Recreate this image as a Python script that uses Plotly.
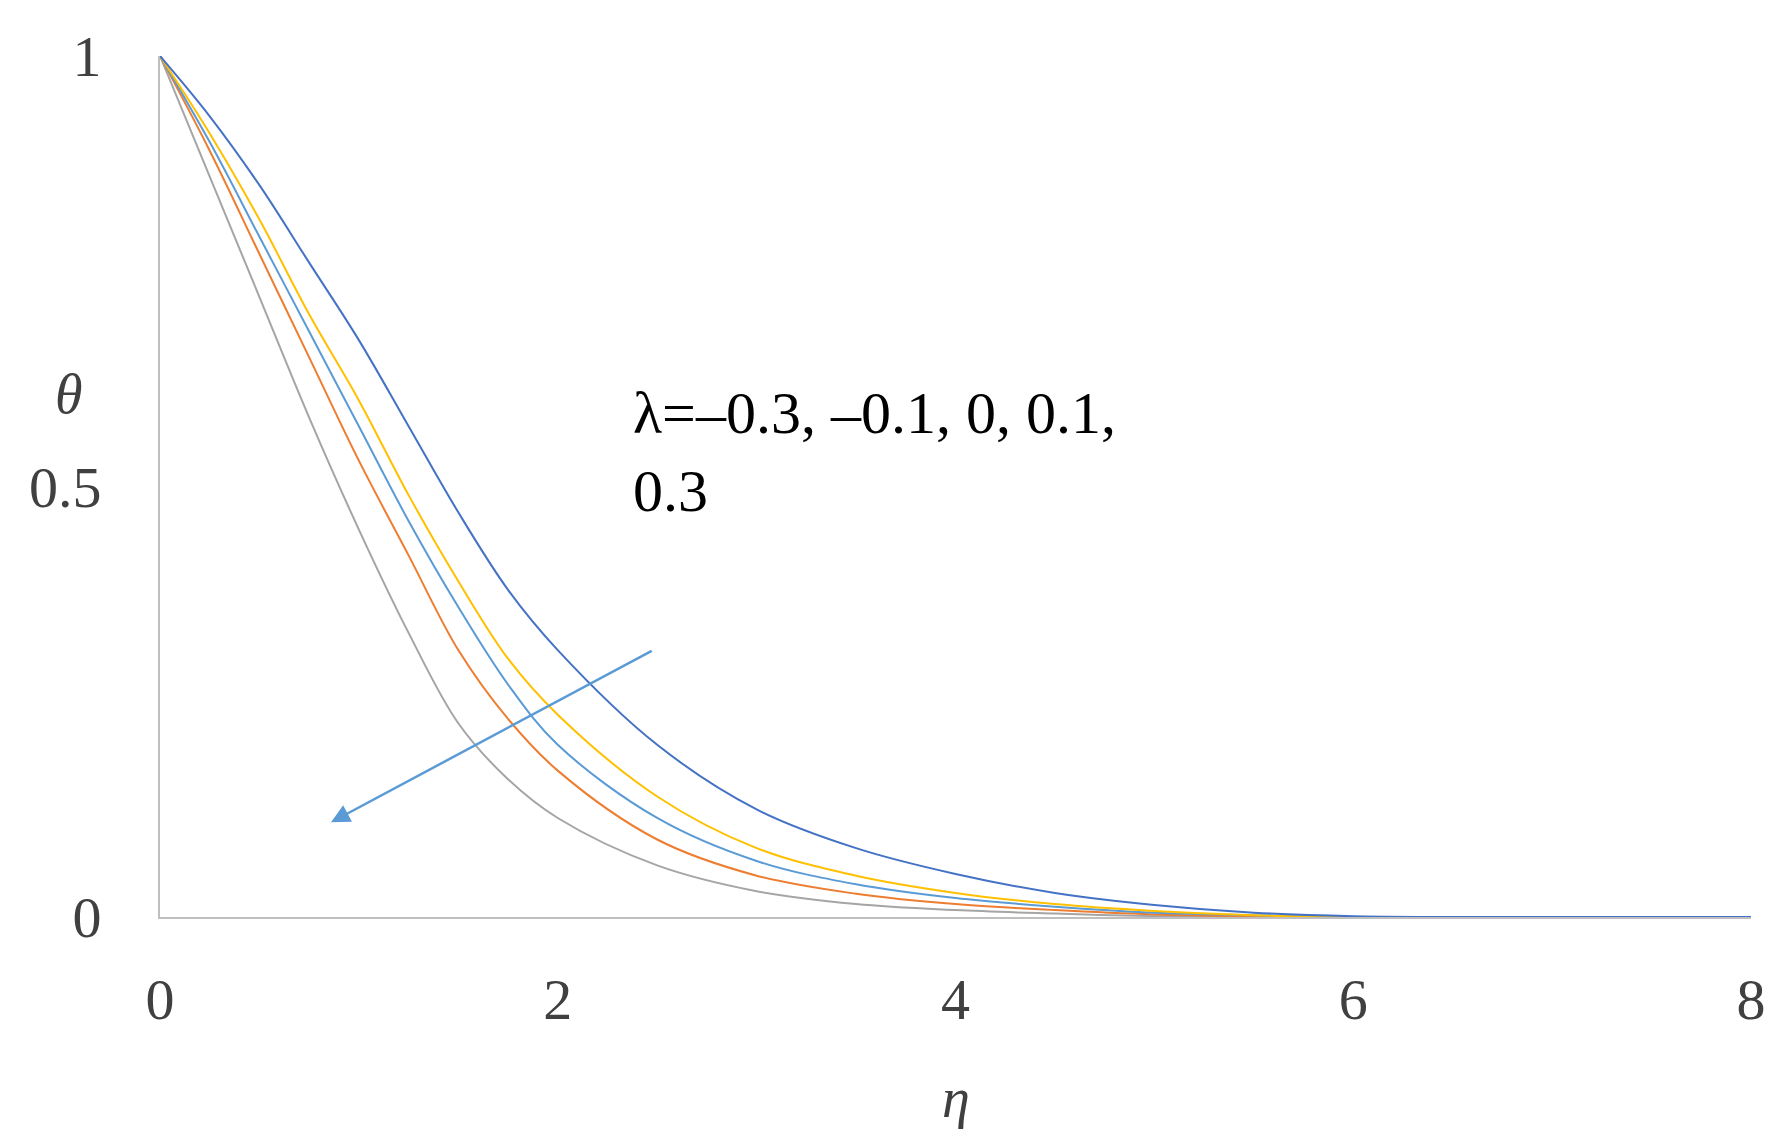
import plotly.graph_objects as go

eta = [0, 0.25, 0.5, 0.75, 1, 1.25, 1.5, 1.75, 2, 2.5, 3, 3.5, 4, 4.5, 5, 5.5, 6, 7, 8]
theta_m03 = [1, 0.93, 0.85, 0.76, 0.67, 0.57, 0.47, 0.38, 0.31, 0.20, 0.125, 0.08, 0.05, 0.028, 0.014, 0.005, 0.001, 0, 0]
theta_m01 = [1, 0.91, 0.81, 0.70, 0.60, 0.49, 0.39, 0.30, 0.235, 0.14, 0.08, 0.048, 0.028, 0.015, 0.007, 0.002, 0, 0, 0]
theta_0 = [1, 0.90, 0.79, 0.68, 0.57, 0.46, 0.36, 0.27, 0.20, 0.115, 0.065, 0.038, 0.022, 0.012, 0.005, 0.002, 0, 0, 0]
theta_01 = [1, 0.89, 0.77, 0.65, 0.53, 0.42, 0.31, 0.23, 0.17, 0.09, 0.048, 0.027, 0.015, 0.008, 0.003, 0.001, 0, 0, 0]
theta_03 = [1, 0.86, 0.72, 0.58, 0.45, 0.33, 0.225, 0.16, 0.115, 0.06, 0.03, 0.015, 0.008, 0.004, 0.001, 0, 0, 0, 0]

series = [
    (theta_03, "#a5a5a5"),
    (theta_01, "#ed7d31"),
    (theta_0, "#5b9bd5"),
    (theta_m01, "#ffc000"),
    (theta_m03, "#4472c4"),
]

fig = go.Figure()
for vals, color in series:
    fig.add_trace(go.Scatter(x=eta, y=vals, mode="lines",
                             line=dict(color=color, width=2, shape="spline", smoothing=1),
                             showlegend=False))

font = dict(family="Liberation Serif", size=58, color="#404040")
fig.update_layout(
    width=1783, height=1144,
    margin=dict(l=152, r=40, t=48, b=235),
    plot_bgcolor="white", paper_bgcolor="white",
    font=font,
)
fig.update_xaxes(range=[0, 8], tickvals=[0, 2, 4, 6, 8], showgrid=False, zeroline=False,
                 showline=True, linecolor="#bfbfbf", linewidth=2, ticks="", ticklabelstandoff=30)
fig.update_yaxes(range=[0, 1], tickvals=[0, 0.5, 1], showgrid=False, zeroline=False,
                 showline=True, linecolor="#bfbfbf", linewidth=2, ticks="", ticklabelstandoff=45)

fig.add_annotation(x=0.86, y=0.11, ax=2.48, ay=0.31, xref="x", yref="y", axref="x", ayref="y",
                   showarrow=True, arrowhead=2, arrowsize=1.5, arrowwidth=2.5, arrowcolor="#5b9bd5", text="")
fig.add_annotation(x=2.37, y=0.54, xref="x", yref="y", xanchor="left", yanchor="middle",
                   text="λ=–0.3, –0.1, 0, 0.1,<br>0.3", showarrow=False, align="left",
                   font=dict(family="Liberation Serif", size=60, color="black"))
fig.add_annotation(x=-0.067, y=0.607, xref="paper", yref="y", text="<i>θ</i>", showarrow=False,
                   font=dict(family="Liberation Serif", size=56, color="#404040"))
fig.add_annotation(x=0.5, y=-0.21, xref="paper", yref="paper", text="<i>η</i>", showarrow=False,
                   yanchor="middle", font=dict(family="Liberation Serif", size=56, color="#404040"))

fig.write_html("out.html")
